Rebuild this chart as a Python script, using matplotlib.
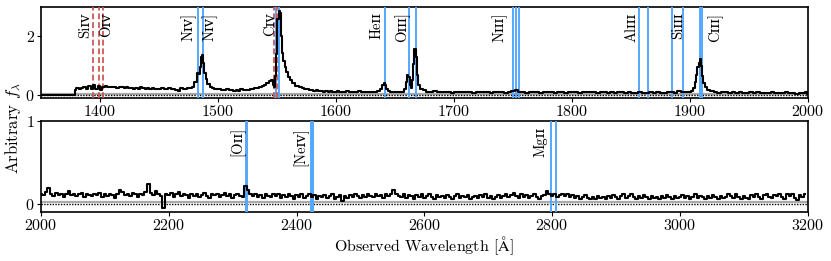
import numpy as np
import matplotlib
matplotlib.use("Agg")
import matplotlib.pyplot as plt

plt.rcParams['font.family'] = ['cmr10', 'DejaVu Serif']
plt.rcParams['mathtext.fontset'] = 'cm'
plt.rcParams['axes.unicode_minus'] = False
plt.rcParams['axes.formatter.use_mathtext'] = True

# ---------------- data: top panel ----------------
wl_top = [1350, 1360, 1370, 1378,
          1379, 1381, 1383, 1385, 1387, 1389, 1391, 1393, 1395, 1397, 1399, 1401,
          1403, 1405, 1407, 1409, 1411, 1413, 1415, 1417, 1419, 1421, 1423, 1425,
          1427, 1429, 1431, 1433, 1435, 1437, 1439, 1441, 1443, 1445, 1447, 1449,
          1451, 1453, 1455, 1457, 1459, 1461, 1463, 1465, 1467, 1469, 1471, 1473,
          1475, 1477, 1479,
          1481, 1483, 1484, 1485, 1486, 1487, 1488, 1489, 1490, 1492,
          1494, 1496, 1498, 1500, 1502, 1504, 1506, 1508, 1510, 1512, 1514, 1516,
          1518, 1520, 1522, 1524, 1526, 1528, 1530, 1532, 1534, 1536, 1538, 1540,
          1542, 1544, 1546,
          1547, 1548, 1549, 1550, 1551, 1552, 1553, 1554, 1555, 1556, 1557, 1558,
          1560, 1562, 1564,
          1567, 1570, 1572, 1574, 1576, 1578, 1580, 1582, 1584, 1586, 1588, 1590,
          1592, 1594, 1596, 1598, 1600, 1602, 1604, 1606, 1608, 1610, 1612, 1614,
          1616, 1618, 1620, 1622, 1624, 1626, 1628, 1630, 1632, 1634, 1636,
          1638, 1640, 1641, 1642, 1643,
          1645, 1647, 1649, 1651, 1653, 1655, 1657,
          1659, 1660, 1661, 1662, 1663, 1664, 1665, 1666, 1667, 1668, 1669, 1670,
          1672,
          1675, 1678, 1681, 1684, 1687, 1690, 1693, 1696, 1699, 1702, 1705, 1708,
          1711, 1714, 1717, 1720, 1723, 1726, 1729, 1732, 1735, 1738, 1741, 1744,
          1747, 1750, 1753, 1756, 1759, 1762, 1765, 1768, 1771, 1774, 1777, 1780,
          1783, 1786, 1789, 1792, 1795, 1798, 1801, 1804, 1807, 1810, 1813, 1816,
          1819, 1822, 1825, 1828, 1831, 1834, 1837, 1840, 1843, 1846, 1849, 1852,
          1855, 1858, 1861, 1864, 1867, 1870, 1873, 1876, 1879, 1882, 1885, 1888,
          1891, 1894, 1897, 1900,
          1902, 1904, 1905, 1906, 1907, 1908, 1909, 1910, 1911, 1912, 1914,
          1916, 1919, 1922, 1925, 1928, 1931, 1934, 1937, 1940, 1943, 1946, 1949,
          1952, 1955, 1958, 1961, 1964, 1967, 1970, 1973, 1976, 1979, 1982, 1985,
          1988, 1991, 1994, 1997, 1999, 2000]
flux_top = [0.00, 0.00, 0.00, 0.00,
            0.18, 0.24, 0.20, 0.23, 0.27, 0.21, 0.30, 0.22, 0.33, 0.20, 0.31, 0.18,
            0.27, 0.31, 0.26, 0.29, 0.27, 0.28, 0.25, 0.27, 0.26, 0.24, 0.26, 0.23,
            0.25, 0.22, 0.24, 0.21, 0.26, 0.23, 0.22, 0.25, 0.21, 0.23, 0.20, 0.22,
            0.19, 0.25, 0.21, 0.20, 0.23, 0.19, 0.21, 0.18, 0.13, 0.23, 0.20, 0.22,
            0.24, 0.23, 0.28,
            0.45, 0.75, 0.72, 0.95, 1.30, 1.35, 1.10, 0.75, 0.55, 0.38,
            0.28, 0.23, 0.21, 0.19, 0.22, 0.18, 0.17, 0.19, 0.16, 0.18, 0.15, 0.17,
            0.14, 0.19, 0.16, 0.18, 0.17, 0.20, 0.21, 0.23, 0.24, 0.27, 0.30, 0.34,
            0.40, 0.47, 0.52,
            0.35, 0.28, 0.65, 1.40, 2.60, 2.85, 2.80, 2.00, 1.45, 1.15, 0.95, 0.78,
            0.62, 0.50, 0.40,
            0.32, 0.27, 0.25, 0.22, 0.20, 0.18, 0.17, 0.15, 0.16, 0.13, 0.15, 0.12,
            0.14, 0.11, 0.13, 0.10, 0.12, 0.14, 0.10, 0.12, 0.09, 0.13, 0.11, 0.10,
            0.12, 0.09, 0.13, 0.11, 0.10, 0.12, 0.09, 0.11, 0.10, 0.12, 0.13,
            0.20, 0.35, 0.42, 0.35, 0.22,
            0.15, 0.12, 0.10, 0.12, 0.09, 0.11, 0.12,
            0.20, 0.45, 0.70, 0.60, 0.35, 0.25, 0.50, 1.05, 1.58, 1.30, 0.70, 0.35,
            0.20,
            0.16, 0.12, 0.10, 0.13, 0.09, 0.11, 0.10, 0.12, 0.08, 0.11, 0.10, 0.12,
            0.09, 0.11, 0.08, 0.10, 0.12, 0.09, 0.10, 0.08, 0.11, 0.09, 0.10, 0.08,
            0.11, 0.15, 0.16, 0.12, 0.10, 0.08, 0.11, 0.09, 0.10, 0.07, 0.10, 0.09,
            0.11, 0.08, 0.10, 0.09, 0.07, 0.10, 0.09, 0.11, 0.08, 0.12, 0.10, 0.09,
            0.11, 0.08, 0.10, 0.09, 0.07, 0.10, 0.08, 0.11, 0.09, 0.07, 0.09, 0.08,
            0.06, 0.09, 0.07, 0.08, 0.10, 0.07, 0.09, 0.08, 0.06, 0.09, 0.10, 0.08,
            0.13, 0.10, 0.09, 0.11,
            0.15, 0.25, 0.45, 0.70, 0.95, 1.10, 1.22, 1.00, 0.65, 0.42, 0.28,
            0.18, 0.13, 0.10, 0.08, 0.11, 0.09, 0.07, 0.10, 0.08, 0.09, 0.06, 0.08,
            0.10, 0.07, 0.09, 0.06, 0.08, 0.07, 0.09, 0.06, 0.08, 0.07, 0.09, 0.06,
            0.08, 0.05, 0.07, 0.06, 0.12, 0.05]

# ---------------- data: bottom panel ----------------
wl_bot_start, wl_bot_step = 2000, 4
flux_bot = [0.12, 0.10, 0.14, 0.19, 0.11, 0.09, 0.13, 0.10, 0.12, 0.08,
            0.11, 0.15, 0.10, 0.12, 0.09, 0.11, 0.13, 0.08, 0.12, 0.10,
            0.09, 0.12, 0.10, 0.13, 0.08, 0.11, 0.09, 0.12, 0.10, 0.07,
            0.12, 0.17, 0.14, 0.10, 0.12, 0.09, 0.13, 0.11, 0.08, 0.12,
            0.10, 0.14, 0.24, 0.13, 0.10, 0.15, 0.11, 0.09, -0.05, 0.12,
            0.10, 0.13, 0.08, 0.11, 0.14, 0.09, 0.12, 0.10, 0.07, 0.11,
            0.09, 0.12, 0.08, 0.10, 0.13, 0.09, 0.07, 0.11, 0.10, 0.12,
            0.08, 0.10, 0.13, 0.09, 0.11, 0.07, 0.10, 0.12, 0.09, 0.08,
            0.21, 0.16, 0.11, 0.09, 0.12, 0.08, 0.10, 0.07, 0.11, 0.09,
            0.08, 0.11, 0.09, 0.12, 0.07, 0.10, 0.08, 0.11, 0.09, 0.06,
            0.10, 0.08, 0.11, 0.07, 0.09, 0.12, 0.08, 0.10, 0.06, 0.09,
            0.08, 0.10, 0.07, 0.09, 0.11, 0.06, 0.08, 0.10, 0.03, 0.09,
            0.07, 0.10, 0.08, 0.11, 0.09, 0.07, 0.10, 0.08, 0.12, 0.09,
            0.08, 0.11, 0.09, 0.10, 0.07, 0.12, 0.09, 0.11, 0.16, 0.12,
            0.09, 0.08, 0.11, 0.07, 0.10, 0.09, 0.06, 0.10, 0.08, 0.11,
            0.07, 0.09, 0.11, 0.08, 0.06, 0.10, 0.08, 0.09, 0.07, 0.10,
            0.08, 0.06, 0.09, 0.11, 0.07, 0.09, 0.08, 0.10, 0.06, 0.08,
            0.09, 0.07, 0.10, 0.08, 0.11, 0.07, 0.09, 0.06, 0.08, 0.10,
            0.07, 0.09, 0.12, 0.08, 0.10, 0.13, 0.09, 0.07, 0.11, 0.08,
            0.10, 0.07, 0.09, 0.11, 0.08, 0.06, 0.09, 0.10, 0.15, 0.12,
            0.09, 0.11, 0.08, 0.10, 0.12, 0.09, 0.11, 0.08, 0.10, 0.07,
            0.09, 0.06, 0.08, 0.10, 0.07, 0.05, 0.08, 0.06, 0.09, 0.07,
            0.08, 0.06, 0.09, 0.07, 0.10, 0.08, 0.06, 0.09, 0.11, 0.07,
            0.09, 0.12, 0.08, 0.06, 0.09, 0.07, 0.10, 0.08, 0.06, 0.09,
            0.07, 0.08, 0.06, 0.09, 0.07, 0.10, 0.08, 0.06, 0.09, 0.07,
            0.08, 0.10, 0.07, 0.09, 0.06, 0.08, 0.11, 0.07, 0.09, 0.08,
            0.06, 0.09, 0.07, 0.10, 0.08, 0.06, 0.09, 0.07, 0.08, 0.11,
            0.09, 0.07, 0.12, 0.08, 0.06, 0.09, 0.07, 0.05, 0.10, 0.08,
            0.11, 0.08, 0.06, 0.10, 0.12, 0.08, 0.07, 0.10, 0.09, 0.11,
            0.08, 0.06, 0.11, 0.09, 0.12, 0.07, 0.04, 0.10, 0.08, 0.11]
wl_bot = wl_bot_start + wl_bot_step * np.arange(len(flux_bot))

# ---------------- line markers ----------------
red_lines = [1394, 1399, 1403, 1547.4, 1550.0]
blue_top = [1483.5, 1487.3, 1549.1, 1551.6, 1641.4, 1661.8, 1667.7,
            1750.2, 1753.0, 1755.5, 1856.6, 1864.6, 1884.7, 1894.4,
            1908.8, 1910.7]
labels_top = ['Si\u026a\u1d20', 'O\u026a\u1d20', 'N\u026a\u1d20]', 'N\u026a\u1d20]',
              'C\u026a\u1d20', 'He\u026a\u026a', 'O\u026a\u026a\u026a]', 'N\u026a\u026a\u026a]',
              'Al\u026a\u026a\u026a', 'Si\u026a\u026a\u026a', 'C\u026a\u026a\u026a]']
labels_top_x = [1387.4, 1405.2, 1474.9, 1492.7, 1544.6, 1634.6, 1656.7,
                1739.1, 1850.4, 1890.0, 1921.8]
blue_bot = [2321.0, 2322.6, 2422.0, 2423.5, 2425.0, 2798.6, 2805.5]
labels_bot = ['[O\u026a\u026a]', '[Ne\u026a\u1d20]', 'Mg\u026a\u026a']
labels_bot_x = [2306.7, 2405.3, 2782.0]

BLUE = '#55a8ff'
RED = '#cc5555'

fig = plt.figure(figsize=(8.31, 2.61), dpi=100)
ax1 = fig.add_axes([0.0493, 0.6245, 0.9227, 0.3485])
ax2 = fig.add_axes([0.0493, 0.1880, 0.9227, 0.3500])

for ax in (ax1, ax2):
    ax.axhline(0.02, color='#aaaaaa', lw=1.6, zorder=1)
    ax.axhline(0.0, color='black', lw=1.0, ls=(0, (1, 1)), zorder=2)
    ax.tick_params(direction='out', length=3, width=0.8, labelsize=11.5, pad=1.5)
    for s in ax.spines.values():
        s.set_linewidth(1.2)

ax1.plot(wl_top, flux_top, drawstyle='steps-mid', color='black', lw=1.5, zorder=4)
for x in blue_top:
    ax1.axvline(x, color=BLUE, lw=1.4, zorder=3)
for x in red_lines:
    ax1.axvline(x, color=RED, lw=1.4, ls=(0, (3, 1.5)), alpha=0.9, zorder=3)
for t, x in zip(labels_top, labels_top_x):
    ax1.text(x, 0.94, t, transform=ax1.get_xaxis_transform(), rotation=90,
             ha='center', va='top', fontsize=10.5)
ax1.set_xlim(1350, 2000)
ax1.set_ylim(-0.1, 3.0)
ax1.set_yticks([0, 2])
ax1.set_xticks([1400, 1500, 1600, 1700, 1800, 1900, 2000])

ax2.plot(wl_bot, flux_bot, drawstyle='steps-mid', color='black', lw=1.5, zorder=4)
for x in blue_bot:
    ax2.axvline(x, color=BLUE, lw=1.4, zorder=3)
for t, x in zip(labels_bot, labels_bot_x):
    ax2.text(x, 0.93, t, transform=ax2.get_xaxis_transform(), rotation=90,
             ha='center', va='top', fontsize=10.5)
ax2.set_xlim(2000, 3200)
ax2.set_ylim(-0.1, 1.0)
ax2.set_yticks([0, 1])
ax2.set_xticks([2000, 2200, 2400, 2600, 2800, 3000, 3200])

fig.text(0.016, 0.51, r'Arbitrary $f_\lambda$', rotation=90, ha='center', va='center', fontsize=12)
fig.text(0.51, 0.058, r'Observed Wavelength [$\mathrm{\AA}$]', ha='center', va='center', fontsize=11.5)

fig.savefig('out.png', dpi=100)
